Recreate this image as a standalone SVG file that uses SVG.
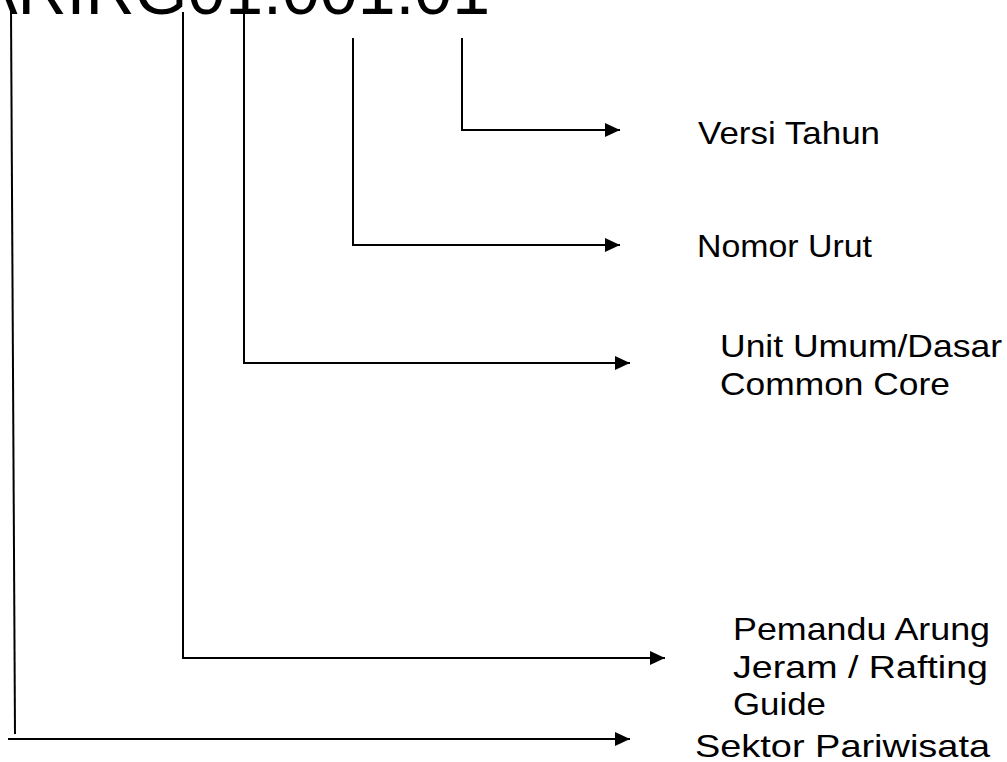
<svg xmlns="http://www.w3.org/2000/svg" width="1007" height="762" viewBox="0 0 1007 762">
  <defs>
    <marker id="arrow" viewBox="0 0 10 10" refX="10" refY="5" markerWidth="15" markerHeight="14" markerUnits="userSpaceOnUse" orient="auto" preserveAspectRatio="none">
      <path d="M0,0 L10,5 L0,10 Z" fill="#000"/>
    </marker>
    <style>
      .ln { fill: none; stroke: #000; stroke-width: 2; }
      .lbl { font-family: "Liberation Sans", Arial, sans-serif; font-size: 32px; fill: #000; }
      .code { font-family: "Liberation Sans", Arial, sans-serif; font-size: 68px; fill: #000; }
    </style>
  </defs>
  <rect width="1007" height="762" fill="#fff"/>

  <!-- unit code, clipped at the top edge -->
  <text class="code" x="490" y="14" text-anchor="end">ARIRG01.001.01</text>

  <g id="connectors">
    <line class="ln" x1="11" y1="10" x2="15" y2="734"/>
    <line class="ln" x1="8" y1="739" x2="630" y2="739" marker-end="url(#arrow)"/>
    <polyline class="ln" points="183,12 183,658 665,658" marker-end="url(#arrow)"/>
    <polyline class="ln" points="244,12 244,363 630,363" marker-end="url(#arrow)"/>
    <polyline class="ln" points="353,38 353,245 620,245" marker-end="url(#arrow)"/>
    <polyline class="ln" points="462,38 462,130 620,130" marker-end="url(#arrow)"/>
  </g>

  <g id="versi-tahun"><text class="lbl" x="698" y="144" textLength="182" lengthAdjust="spacingAndGlyphs">Versi Tahun</text></g>
  <g id="nomor-urut"><text class="lbl" x="697" y="257" textLength="175" lengthAdjust="spacingAndGlyphs">Nomor Urut</text></g>
  <g id="unit-umum">
    <text class="lbl" x="720" y="357" textLength="282" lengthAdjust="spacingAndGlyphs">Unit Umum/Dasar</text>
    <text class="lbl" x="720" y="395" textLength="230" lengthAdjust="spacingAndGlyphs">Common Core</text>
  </g>
  <g id="pemandu">
    <text class="lbl" x="733" y="640" textLength="257" lengthAdjust="spacingAndGlyphs">Pemandu Arung</text>
    <text class="lbl" x="733" y="678" textLength="255" lengthAdjust="spacingAndGlyphs">Jeram / Rafting</text>
    <text class="lbl" x="733" y="715" textLength="93" lengthAdjust="spacingAndGlyphs">Guide</text>
  </g>
  <g id="sektor"><text class="lbl" x="695" y="757" textLength="295" lengthAdjust="spacingAndGlyphs">Sektor Pariwisata</text></g>
</svg>
